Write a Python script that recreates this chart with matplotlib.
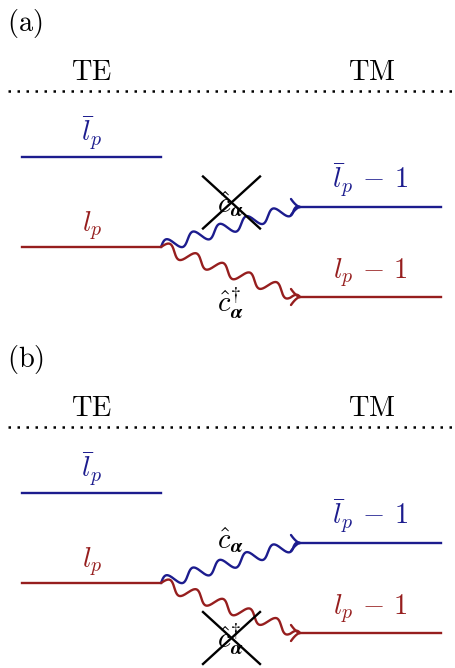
import numpy as np
import matplotlib.pyplot as plt

plt.rcParams['mathtext.fontset'] = 'cm'

# layout of the two panels (pixel coordinates, y grows downwards)
panel_tags = [r'$\mathrm{(a)}$', r'$\mathrm{(b)}$']
panel_dy = [0, 336]
crossed = ['up', 'down']   # which process is forbidden in each panel

side_labels = [r'$\mathrm{TE}$', r'$\mathrm{TM}$']
side_x = [92, 372]

left_levels = [r'$\bar{l}_p$', r'$l_p$']
left_y = [157, 247]
right_levels = [r'$\bar{l}_p\,-\,1$', r'$l_p\,-\,1$']
right_y = [207, 297]

blue = '#1c1c8e'
red = '#961e1e'
cols = [blue, red]
fs = 20.5
lw = 1.7


def wave(ax, p0, p1, col, n=5.2, amp=6.0):
    p0 = np.array(p0, float)
    p1 = np.array(p1, float)
    d = p1 - p0
    L = np.hypot(*d)
    d = d / L
    nrm = np.array([d[1], -d[0]])
    t = np.linspace(0, 1, 400)
    env = np.clip((1 - t) / 0.06, 0, 1)
    s = amp * np.sin(2 * np.pi * n * t) * env
    pts = p0[None, :] + t[:, None] * (p1 - p0)[None, :] + s[:, None] * nrm[None, :]
    ax.plot(pts[:, 0], pts[:, 1], color=col, lw=lw, solid_capstyle='round')
    # open arrow head pointing right
    tip = p1
    hx, hy = 9, 8
    u = np.linspace(0, 1, 20)
    for sg in (-1, 1):
        xs = tip[0] - hx * (1 - u)
        ys = tip[1] + sg * hy * (1 - u) ** 1.6
        ax.plot(xs, ys, color=col, lw=lw, solid_capstyle='round')


fig = plt.figure(figsize=(4.55, 6.68), dpi=100)
ax = fig.add_axes([0, 0, 1, 1])
ax.set_xlim(0, 455)
ax.set_ylim(668, 0)
ax.axis('off')

for k in range(2):
    dy = panel_dy[k]
    ax.text(7, 31 + dy, panel_tags[k], fontsize=fs, ha='left', va='baseline')
    for lab, x in zip(side_labels, side_x):
        ax.text(x, 79.5 + dy, lab, fontsize=fs, ha='center', va='baseline')
    ax.plot([8, 455], [91 + dy, 91 + dy], color='black', lw=1.8,
            dashes=(1, 2.6))

    for lab, y, c in zip(left_levels, left_y, cols):
        ax.plot([22, 161], [y + dy, y + dy], color=c, lw=lw)
        ax.text(92, y + dy - 16, lab, fontsize=fs, color=c, ha='center', va='baseline')
    for lab, y, c in zip(right_levels, right_y, cols):
        ax.plot([300, 441], [y + dy, y + dy], color=c, lw=lw)
        ax.text(370, y + dy - 19, lab, fontsize=fs, color=c, ha='center', va='baseline')

    start = (161, left_y[1] + dy)
    wave(ax, start, (300, right_y[0] + dy), blue)
    wave(ax, start, (300, right_y[1] + dy), red)

    ax.text(230, 212 + dy, r'$\hat{c}_{\boldsymbol{\alpha}}$', fontsize=fs,
            ha='center', va='baseline')
    ax.text(230, 312 + dy, r'$\hat{c}^{\dagger}_{\boldsymbol{\alpha}}$', fontsize=fs,
            ha='center', va='baseline')

    if crossed[k] == 'up':
        cx, cy = 231.5, 202.5 + dy
    else:
        cx, cy = 231.5, 302 + dy
    ax.plot([cx - 28.5, cx + 28.5], [cy - 26, cy + 26], color='black', lw=lw)
    ax.plot([cx - 28.5, cx + 28.5], [cy + 26, cy - 26], color='black', lw=lw)

fig.savefig('out.png', dpi=100)
